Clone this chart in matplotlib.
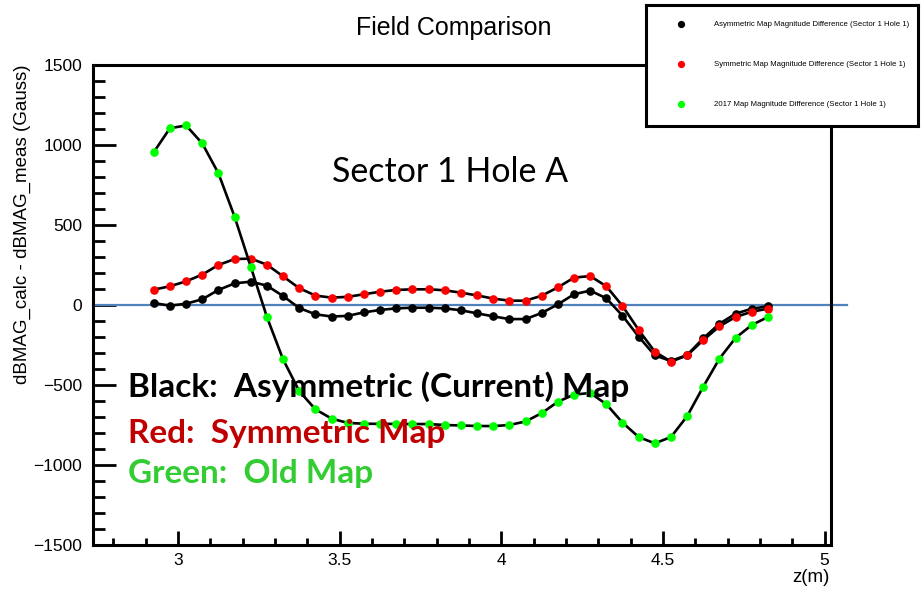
import numpy as np
import matplotlib.pyplot as plt
from matplotlib.ticker import MultipleLocator, FixedLocator

# z positions along the hole (m)
z = [2.925, 2.975, 3.025, 3.075, 3.125, 3.175, 3.225, 3.275, 3.325, 3.375,
     3.425, 3.475, 3.525, 3.575, 3.625, 3.675, 3.725, 3.775, 3.825, 3.875,
     3.925, 3.975, 4.025, 4.075, 4.125, 4.175, 4.225, 4.275, 4.325, 4.375,
     4.425, 4.475, 4.525, 4.575, 4.625, 4.675, 4.725, 4.775, 4.825]

# dBMAG_calc - dBMAG_meas (Gauss)
asym = [12, -4, 8, 36, 94, 135, 146, 121, 56, -19,
        -58, -72, -68, -46, -31, -21, -17, -17, -21, -33,
        -52, -71, -88, -88, -50, 4, 67, 90, 42, -67,
        -198, -315, -350, -312, -208, -117, -54, -23, -8]
sym = [96, 117, 148, 190, 250, 287, 290, 252, 179, 105,
       59, 46, 51, 67, 83, 94, 98, 98, 92, 77,
       60, 40, 27, 27, 58, 110, 171, 181, 117, -6,
       -156, -292, -354, -315, -219, -133, -75, -42, -23]
old2017 = [955, 1105, 1122, 1010, 823, 552, 239, -75, -340, -538,
           -652, -710, -737, -742, -743, -743, -744, -744, -750, -753,
           -756, -757, -750, -728, -676, -605, -560, -550, -620, -735,
           -825, -865, -825, -695, -510, -335, -205, -125, -75]

legend_labels = ['Asymmetric Map Magnitude Difference (Sector 1 Hole 1)',
                 'Symmetric Map Magnitude Difference (Sector 1 Hole 1)',
                 '2017 Map Magnitude Difference (Sector 1 Hole 1)']
marker_colors = ['black', '#ff0000', '#00ff00']

W, H = 921, 590
plt.rcParams['font.family'] = ['Liberation Sans', 'DejaVu Sans']
fig = plt.figure(figsize=(W / 100, H / 100), dpi=100)

def fx(px):
    return px / W

def fy(py):
    return 1 - py / H

ax = fig.add_axes([fx(93), fy(545), fx(831) - fx(93), fy(65) - fy(545)])
ax.set_xlim(2.737, 5.02)
ax.set_ylim(-1500, 1500)

for vals, col in zip([asym, sym, old2017], marker_colors):
    ax.plot(z, vals, color='black', lw=1.9, marker='o', ms=5.2,
            mfc=col, mec=col, zorder=3)

# zero reference line, runs a bit past the frame on the right
ax.axhline(0, xmin=0, xmax=(847 - 93) / (831 - 93), color='#4f81bd',
           lw=1.6, clip_on=False, zorder=2)

for s in ax.spines.values():
    s.set_linewidth(2.2)

ax.xaxis.set_major_locator(FixedLocator([3, 3.5, 4, 4.5, 5]))
ax.xaxis.set_minor_locator(MultipleLocator(0.1))
ax.yaxis.set_major_locator(MultipleLocator(500))
ax.yaxis.set_minor_locator(MultipleLocator(100))
ax.set_xticklabels(['3', '3.5', '4', '4.5', '5'])
ax.tick_params(axis='both', which='both', direction='in', width=2,
               top=False, right=False, labelsize=12.5)
ax.tick_params(axis='x', which='major', length=10, pad=6)
ax.tick_params(axis='x', which='minor', length=5)
ax.tick_params(axis='y', which='major', length=16.5, pad=8)
ax.tick_params(axis='y', which='minor', length=8.5)

fig.text(fx(454), fy(28), 'Field Comparison', ha='center', va='center',
         fontsize=18)
fig.text(fx(22), fy(65), 'dBMAG_calc - dBMAG_meas (Gauss)', rotation=90,
         ha='center', va='top', fontsize=13.5)
fig.text(fx(830), fy(578), 'z(m)', ha='right', va='center', fontsize=13.5)

# annotations
ann = ['Lato', 'DejaVu Sans']
fig.text(fx(332), fy(172), 'Sector 1 Hole A', ha='left', va='center',
         fontsize=24.5, family=ann)
fig.text(fx(128), fy(387), 'Black:  Asymmetric (Current) Map', ha='left',
         va='center', fontsize=24, fontweight='bold', family=ann, color='black')
fig.text(fx(128), fy(433), 'Red:  Symmetric Map', ha='left', va='center',
         fontsize=24, fontweight='bold', family=ann, color='#c00000')
fig.text(fx(128), fy(473), 'Green:  Old Map', ha='left', va='center',
         fontsize=24, fontweight='bold', family=ann, color='#33cc33')

# legend box
lx0, ly0, lx1, ly1 = 646, 5, 918, 126
lg = fig.add_axes([fx(lx0), fy(ly1), fx(lx1) - fx(lx0), fy(ly0) - fy(ly1)])
lg.set_xlim(lx0, lx1)
lg.set_ylim(ly1, ly0)
lg.set_xticks([])
lg.set_yticks([])
for s in lg.spines.values():
    s.set_linewidth(2.2)
for yy, lab, col in zip([24, 64, 104], legend_labels, marker_colors):
    lg.plot([681], [yy], marker='o', ms=4.2, mfc=col, mec=col, ls='none')
    lg.text(714, yy, lab, ha='left', va='center', fontsize=5.6)

fig.savefig('out.png', dpi=100)
